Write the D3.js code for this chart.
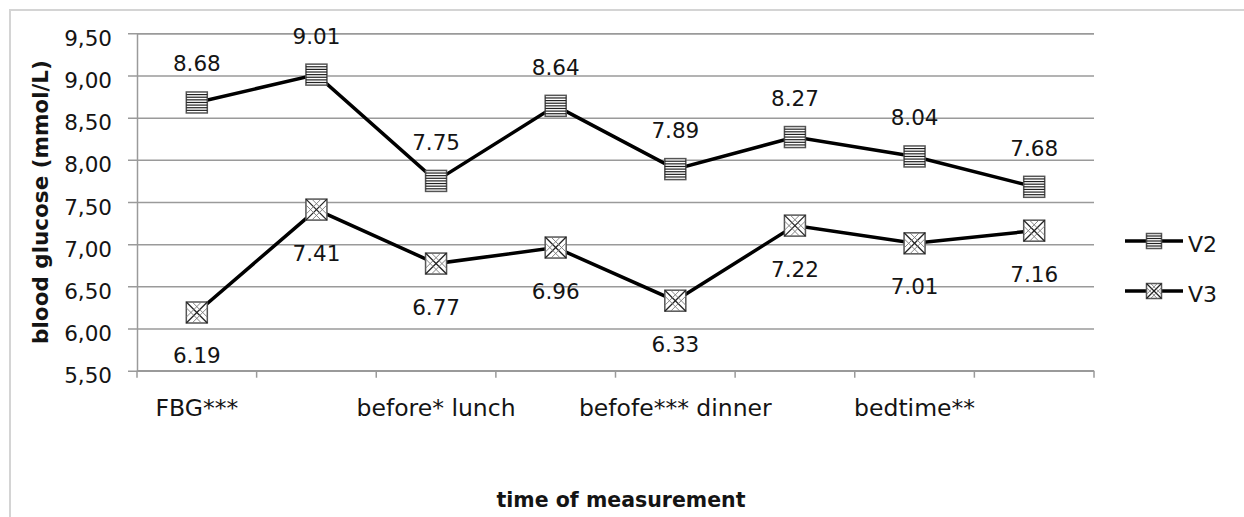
<!DOCTYPE html>
<html>
<head>
<meta charset="utf-8">
<script src="https://cdn.jsdelivr.net/npm/d3@7"></script>
<style>
  body { margin: 0; background: #fff; }
  svg { display: block; }
  text { font-family: "DejaVu Sans", sans-serif; fill: #141414; }
</style>
</head>
<body>
<svg id="chart" width="1244" height="517"></svg>
<script>
// Time points (only every other one carries a label on the axis)
const categories = ["FBG***", "", "before* lunch", "", "befofe*** dinner", "", "bedtime**", ""];
const seriesNames = ["V2", "V3"];
const v2Values = [8.68, 9.01, 7.75, 8.64, 7.89, 8.27, 8.04, 7.68];
const v3Values = [6.19, 7.41, 6.77, 6.96, 6.33, 7.22, 7.01, 7.16];
const yTickValues = [5.5, 6.0, 6.5, 7.0, 7.5, 8.0, 8.5, 9.0, 9.5];
const yDomain = [5.5, 9.5];
const yTitle = "blood glucose (mmol/L)";
const xTitle = "time of measurement";

const svg = d3.select("#chart");
const W = 1244, H = 517;
const plot = { left: 137, right: 1094, top: 33.3, bottom: 370.7 };

// frame around the whole chart
svg.append("rect")
  .attr("x", 10).attr("y", 10)
  .attr("width", W + 20).attr("height", H + 20)
  .attr("fill", "#fff").attr("stroke", "#d4d4d4").attr("stroke-width", 2);

const x = d3.scaleBand()
  .domain(d3.range(categories.length))
  .range([plot.left, plot.right])
  .padding(0);
const cx = i => x(i) + x.bandwidth() / 2;

const y = d3.scaleLinear().domain(yDomain).range([plot.bottom, plot.top]);

const commaFmt = d3.formatLocale({ decimal: ",", thousands: ".", grouping: [3], currency: ["", ""] }).format(".2f");

// horizontal gridlines + left axis
const yAxis = d3.axisLeft(y)
  .tickValues(yTickValues)
  .tickSize(-(plot.right - plot.left))
  .tickFormat(commaFmt)
  .tickPadding(25);
const gy = svg.append("g").attr("transform", `translate(${plot.left},0)`).call(yAxis);
gy.select(".domain").attr("stroke", "#9a9a9a").attr("stroke-width", 1.5);
gy.selectAll(".tick line")
  .attr("stroke", "#9a9a9a").attr("stroke-width", 1.5)
  .attr("x1", -9);
gy.selectAll(".tick text")
  .attr("font-size", 21.5)
  .attr("font-family", "DejaVu Sans, sans-serif")
  .attr("fill", "#141414")
  .attr("dy", "0.56em");

// bottom axis with ticks at category boundaries
const gx = svg.append("g");
gx.append("line")
  .attr("x1", plot.left).attr("x2", plot.right)
  .attr("y1", plot.bottom).attr("y2", plot.bottom)
  .attr("stroke", "#9a9a9a").attr("stroke-width", 1.5);
const edges = d3.range(categories.length).map(i => x(i)).concat([x(categories.length - 1) + x.bandwidth()]);
gx.selectAll("line.tk").data(edges).join("line")
  .attr("class", "tk")
  .attr("x1", d => d).attr("x2", d => d)
  .attr("y1", plot.bottom).attr("y2", plot.bottom + 7)
  .attr("stroke", "#9a9a9a").attr("stroke-width", 1.5);
gx.selectAll("text.cat").data(categories.map((c, i) => ({ c, i })).filter(d => d.c !== ""))
  .join("text")
  .attr("class", "cat")
  .attr("x", d => cx(d.i))
  .attr("y", 416)
  .attr("text-anchor", "middle")
  .attr("font-size", 23.5)
  .text(d => d.c);

// axis titles
svg.append("text")
  .attr("x", 621).attr("y", 507)
  .attr("text-anchor", "middle")
  .attr("font-size", 20.5)
  .attr("font-weight", "bold")
  .attr("fill", "#111")
  .text(xTitle);
svg.append("text")
  .attr("transform", `translate(48,${(plot.top + plot.bottom) / 2}) rotate(-90)`)
  .attr("text-anchor", "middle")
  .attr("font-size", 21.5)
  .attr("font-weight", "bold")
  .attr("fill", "#111")
  .text(yTitle);

// marker drawing: horizontal stripes (V2) and diagonal cross (V3)
function drawMarker(g, kind, s) {
  const h = s / 2;
  g.append("rect")
    .attr("x", -h).attr("y", -h).attr("width", s).attr("height", s)
    .attr("fill", "#fff").attr("stroke", "#555").attr("stroke-width", 1.5);
  if (kind === 0) {
    const n = Math.round(s / 2.6);
    g.selectAll("line.st").data(d3.range(1, n)).join("line")
      .attr("class", "st")
      .attr("x1", -h).attr("x2", h)
      .attr("y1", k => -h + k * s / n).attr("y2", k => -h + k * s / n)
      .attr("stroke", "#222").attr("stroke-width", 1.2);
  } else {
    const o = s * 0.28;
    const segs = [
      [-h, -h, h, h], [-h, h, h, -h],
      [-h + o, -h, h, h - o], [-h, -h + o, h - o, h],
      [-h, h - o, h - o, -h], [-h + o, h, h, -h + o]
    ];
    g.selectAll("line.x").data(segs).join("line")
      .attr("class", "x")
      .attr("x1", d => d[0]).attr("y1", d => d[1])
      .attr("x2", d => d[2]).attr("y2", d => d[3])
      .attr("stroke", (d, i) => i < 2 ? "#222" : "#777")
      .attr("stroke-width", (d, i) => i < 2 ? 1.3 : 0.9);
  }
}

const series = [
  { name: seriesNames[0], values: v2Values, kind: 0, labelDy: -31 },
  { name: seriesNames[1], values: v3Values, kind: 1, labelDy: 51 }
];

const line = d3.line().x((d, i) => cx(i)).y(d => y(d));

series.forEach(s => {
  svg.append("path")
    .datum(s.values)
    .attr("d", line)
    .attr("fill", "none")
    .attr("stroke", "#000")
    .attr("stroke-width", 3.5)
    .attr("stroke-linejoin", "miter");
});

series.forEach(s => {
  s.values.forEach((v, i) => {
    const g = svg.append("g").attr("transform", `translate(${cx(i)},${y(v)})`);
    drawMarker(g, s.kind, 21);
    svg.append("text")
      .attr("x", cx(i))
      .attr("y", y(v) + s.labelDy)
      .attr("text-anchor", "middle")
      .attr("font-size", 21.5)
      .text(v.toFixed(2));
  });
});

// legend
const legendY = [241, 291];
series.forEach((s, k) => {
  const ly = legendY[k];
  svg.append("line")
    .attr("x1", 1125).attr("x2", 1183)
    .attr("y1", ly).attr("y2", ly)
    .attr("stroke", "#000").attr("stroke-width", 3.5);
  const g = svg.append("g").attr("transform", `translate(1154,${ly})`);
  drawMarker(g, s.kind, 15);
  svg.append("text")
    .attr("x", 1188).attr("y", ly + 11)
    .attr("font-size", 22)
    .text(s.name);
});
</script>
</body>
</html>
